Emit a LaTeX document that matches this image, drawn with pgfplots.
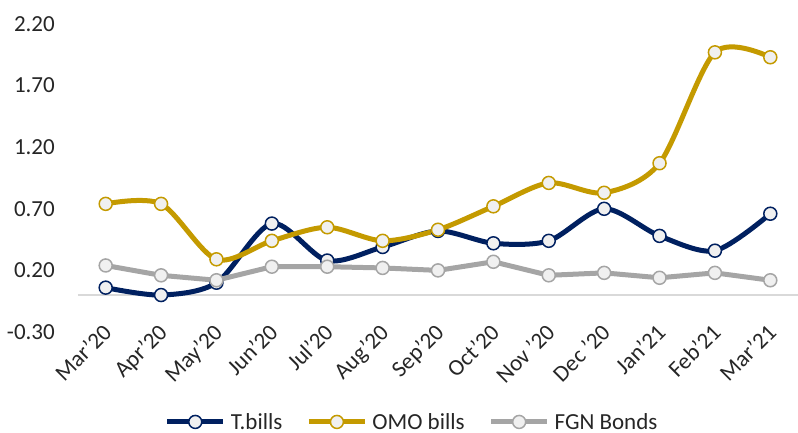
\documentclass[border=0pt]{standalone}
\usepackage{pgfplots}
\pgfplotsset{compat=1.18}
\usepackage{fontspec}
\setmainfont{Carlito}
\definecolor{navy}{HTML}{002060}
\definecolor{gold}{HTML}{C49A00}
\definecolor{lgray}{HTML}{A5A5A5}
\definecolor{mfill}{HTML}{F0F0F0}
\definecolor{zline}{HTML}{D9D9D9}
\begin{document}
\begin{tikzpicture}
\useasboundingbox (-78pt,-101pt) rectangle (720pt,332pt);
\begin{axis}[
  at={(0pt,0pt)}, anchor=south west,
  scale only axis, width=720pt, height=308pt,
  xmin=-0.5, xmax=12.5, ymin=-0.3, ymax=2.2,
  axis line style={draw=none},
  tick style={draw=none},
  xtick={0,...,12},
  xticklabels={Mar'20,Apr'20,May'20,Jun'20,Jul'20,Aug'20,Sep'20,Oct'20,Nov '20,Dec '20,Jan'21,Feb'21,Mar'21},
  ytick={-0.3,0.2,0.7,1.2,1.7,2.2},
  yticklabel={\pgfmathprintnumber[fixed,fixed zerofill,precision=2]{\tick}},
  /pgf/number format/assume math mode=true,
  yticklabel style={font=\fontsize{23}{25}\selectfont, text=black!85, anchor=east, inner sep=0pt, xshift=-23pt},
  xticklabel style={font=\fontsize{23}{25}\selectfont, text=black!85, rotate=45, anchor=north east, inner sep=0pt, yshift=10pt, xshift=4pt},
  major tick length=0pt,
  extra y ticks={0}, extra y tick labels={},
  extra y tick style={grid=major, major grid style={zline, line width=1.5pt}},
  legend style={at={(axis description cs:0.464,-0.292)}, anchor=center, draw=none, fill=none,
    legend columns=3, font=\fontsize{23}{25}\selectfont, text=black!85, inner sep=0pt,
    /tikz/every odd column/.append style={column sep=3pt},
    /tikz/every even column/.append style={column sep=22pt}},
  legend image code/.code={\draw[mark repeat=2,mark phase=2,#1] plot coordinates {(0pt,0pt) (28pt,0pt) (56pt,0pt)};},
  every axis plot/.append style={line width=5pt, mark=*, mark size=6.5pt,
    mark options={fill=mfill, line width=1.5pt}},
]
\addplot[navy, smooth] coordinates {(0,0.06) (1,0.00) (2,0.10) (3,0.58) (4,0.28) (5,0.39) (6,0.52) (7,0.42) (8,0.44) (9,0.70) (10,0.48) (11,0.36) (12,0.66)};
\addlegendentry{T.bills}
\addplot[gold, smooth] coordinates {(0,0.74) (1,0.74) (2,0.29) (3,0.44) (4,0.55) (5,0.44) (6,0.53) (7,0.72) (8,0.91) (9,0.83) (10,1.07) (11,1.97) (12,1.93)};
\addlegendentry{OMO bills}
\addplot[lgray] coordinates {(0,0.24) (1,0.16) (2,0.12) (3,0.23) (4,0.23) (5,0.22) (6,0.20) (7,0.27) (8,0.16) (9,0.18) (10,0.14) (11,0.18) (12,0.12)};
\addlegendentry{FGN Bonds}
\end{axis}
\end{tikzpicture}
\end{document}
